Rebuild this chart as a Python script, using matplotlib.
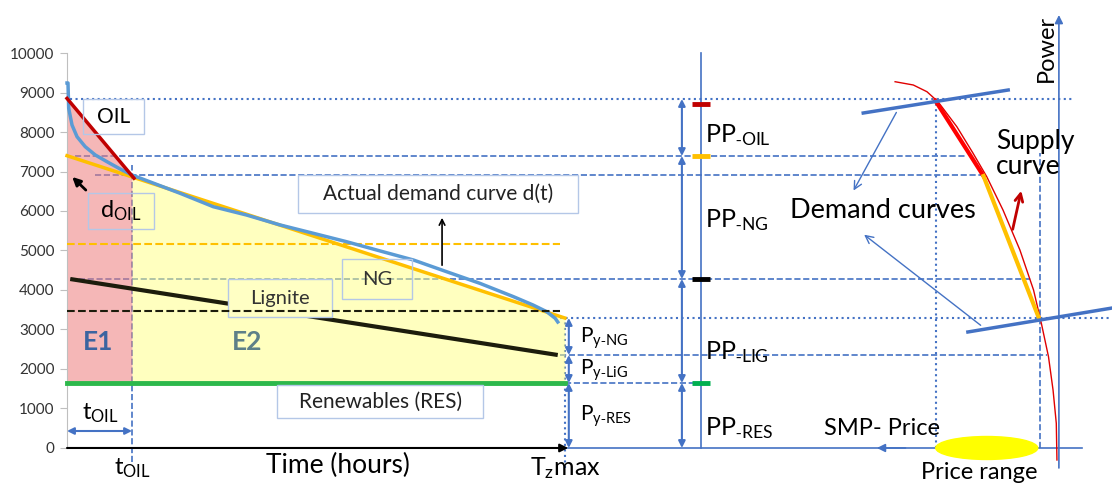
import matplotlib.pyplot as plt
from matplotlib.patches import Rectangle, Ellipse

plt.rcParams['font.family'] = ['Lato', 'DejaVu Sans']
plt.rcParams['mathtext.fontset'] = 'custom'
plt.rcParams['mathtext.rm'] = 'Lato'
plt.rcParams['mathtext.default'] = 'regular'

# time axis (hours, scaled so that t_OIL = 1)
T_OIL = 1.0
T_MAX = 7.66

# actual demand curve d(t)
DEMAND_T = [0.0, 0.015, 0.026, 0.077, 0.154, 0.28, 0.435, 0.642, 0.846, 1.0,
            1.74, 2.25, 2.76, 3.28, 3.79, 4.30, 4.82, 5.33, 5.84, 6.35, 6.87,
            7.17, 7.38, 7.51, 7.55]
DEMAND_P = [9241, 9241, 8600, 8177, 7881, 7628, 7418, 7223, 7038, 6911,
            6448, 6109, 5899, 5646, 5435, 5223, 4987, 4759, 4463, 4170, 3830,
            3620, 3451, 3284, 3190]

# unit lines
OIL_T, OIL_P = [0.0, 1.03], [8850, 6830]
NG_T, NG_P = [0.0, T_MAX], [7400, 3290]
LIG_T, LIG_P = [0.05, 7.55], [4278, 2354]
RES_P = 1650
NG_AVG = 5170
LIG_AVG = 3476

# power levels used by the reference lines
P_OIL = 8835
P_NG = 7392
D_TOIL = 6911
P_LIG = 4278
PY_NG = 3291
PY_LIG = 2354
PY_RES = 1646

# colored marks on the PP axis
PP_MARK_P = [8709, 7392, 4278, 1646]
PP_MARK_C = ['#C00000', '#FFC000', 'black', '#00B050']

# supply curve (price axis drawn right-to-left)
SUPPLY_X = [12.74, 13.02, 13.23, 13.40, 13.69, 13.94, 14.15, 14.40, 14.66, 14.87,
            14.99, 15.10, 15.17, 15.22, 15.23]
SUPPLY_P = [9273, 9190, 9020, 8767, 8134, 7461, 6868, 6025, 5013, 4000,
            3157, 2311, 1468, 625, -304]
SUPPLY_OIL_X, SUPPLY_OIL_P = [13.36, 14.10], [8793, 6886]
SUPPLY_NG_X, SUPPLY_NG_P = [14.10, 14.96], [6886, 3258]

# two demand curves in the price/power plane
DEM_HI_X, DEM_HI_P = [12.25, 14.48], [8481, 9063]
DEM_LO_X, DEM_LO_P = [13.86, 16.08], [2937, 3544]

BLUE = '#4472C4'
LBLUE = '#5B9BD5'
BOXC = '#B4C7E7'

fig = plt.figure(figsize=(11.12, 4.91), dpi=100)
ax = fig.add_axes([0, 0, 1, 1])
ax.set_xlim(-1.031, 16.077)
ax.set_ylim(-1089, 11342)
ax.patch.set_alpha(0)

for s in ['top', 'right', 'bottom']:
    ax.spines[s].set_visible(False)
ax.spines['left'].set_position(('data', 0))
ax.spines['left'].set_bounds(0, 10000)
ax.spines['left'].set_color('#BFBFBF')
ax.set_xticks([])
ax.set_yticks(range(0, 10001, 1000))
ax.tick_params(axis='y', length=5, color='#BFBFBF', labelsize=11, labelcolor='#333333', pad=4)

# reference lines
ax.plot([0.05, 15.5], [P_OIL] * 2, ':', color=BLUE, lw=1.5, zorder=1)
ax.plot([0.12, 13.85], [P_NG] * 2, '--', color=BLUE, lw=1.2, zorder=1)
ax.plot([0.43, 14.09], [D_TOIL] * 2, '--', color=BLUE, lw=1.2, zorder=1)
ax.plot([0.05, 14.85], [P_LIG] * 2, '--', color=BLUE, lw=1.2, zorder=1)
ax.plot([7.58, 16.08], [PY_NG] * 2, ':', color=BLUE, lw=1.5, zorder=1)
ax.plot([7.58, 15.08], [PY_LIG] * 2, '--', color=BLUE, lw=1.2, zorder=1)
ax.plot([7.66, 9.74], [PY_RES] * 2, '--', color=BLUE, lw=1.2, zorder=1)
ax.plot([T_OIL] * 2, [-350, 7165], '--', color=BLUE, lw=1.2, zorder=1)
ax.plot([T_MAX] * 2, [-500, PY_NG], ':', color=BLUE, lw=1.5, zorder=1)
ax.plot([13.37] * 2, [0, P_OIL], ':', color=BLUE, lw=1.5, zorder=1)
ax.plot([14.97] * 2, [0, 7480], '--', color=BLUE, lw=1.2, zorder=1)

# energy areas
ax.fill_between([0, T_OIL], [RES_P] * 2, [OIL_P[0], 6880], color='#EE7D7D', alpha=0.55, lw=0, zorder=2)
ng_end = NG_P[0] + (NG_P[1] - NG_P[0]) * T_OIL / T_MAX
ax.fill_between([T_OIL, T_MAX], [RES_P] * 2, [ng_end, NG_P[1]], color='#FFFF80', alpha=0.5, lw=0, zorder=2)

# unit lines and demand
ax.plot([0, T_MAX - 0.08], [NG_AVG] * 2, '--', color='#FFC000', lw=1.5, zorder=3)
ax.plot(LIG_T, LIG_P, color='#1C1C0C', lw=3, zorder=3, solid_capstyle='butt')
ax.plot([0, T_MAX], [RES_P] * 2, color='#2DB84B', lw=3.5, zorder=3)
ax.plot(NG_T, NG_P, color='#FFC000', lw=2.5, zorder=4)
ax.plot(DEMAND_T, DEMAND_P, color=LBLUE, lw=2.5, zorder=4)
ax.plot(OIL_T, OIL_P, color='#C00000', lw=2.5, zorder=5)


def box(x0, x1, y0, y1, fc='none', z=6):
    ax.add_patch(Rectangle((x0, y0), x1 - x0, y1 - y0, fc=fc, ec=BOXC, lw=1, zorder=z))


box(0.246, 1.185, 7949, 8835)
ax.text(0.715, 8392, 'OIL', fontsize=15, ha='center', va='center', zorder=7)
box(0.323, 1.338, 5544, 6456)
ax.text(0.83, 6000, 'd$_{OIL}$', fontsize=17, ha='center', va='center', zorder=7)
box(3.55, 7.86, 5949, 6911, fc='white')
ax.text(5.71, 6430, 'Actual demand curve d(t)', fontsize=15, ha='center', va='center', color='#222222', zorder=7)
box(4.23, 5.31, 3772, 4785)
ax.text(4.77, 4278, 'NG', fontsize=14.5, ha='center', va='center', color='#333333', zorder=7)
box(2.48, 4.08, 3316, 4278, fc='#FFFFC4', z=4)
ax.text(3.28, 3797, 'Lignite', fontsize=14.5, ha='center', va='center', color='#333333', zorder=7)
ax.plot([0, T_MAX - 0.08], [LIG_AVG] * 2, '--', color='#1C1C0C', lw=1.5, zorder=5)
box(3.23, 6.4, 759, 1595, fc='white')
ax.text(4.82, 1165, 'Renewables (RES)', fontsize=15, ha='center', va='center', color='#222222', zorder=7)

ax.text(0.48, 2684, 'E1', fontsize=19, fontweight='bold', color='#3B64A0', ha='center', va='center', zorder=7)
ax.text(2.77, 2684, 'E2', fontsize=19, fontweight='bold', color='#5E8088', ha='center', va='center', zorder=7)

# arrows on the left chart
ax.annotate('', xy=(0.05, 6911), xytext=(0.32, 6481),
            arrowprops=dict(arrowstyle='-|>', color='black', lw=2, mutation_scale=12), zorder=8)
ax.annotate('', xy=(5.77, 5899), xytext=(5.77, 4557),
            arrowprops=dict(arrowstyle='->', color='black', lw=1.2), zorder=8)
ax.annotate('', xy=(0, 430), xytext=(T_OIL, 430),
            arrowprops=dict(arrowstyle='<|-|>', color=BLUE, lw=1.5, mutation_scale=10, shrinkA=0, shrinkB=0))
ax.text(0.51, 886, 't$_{OIL}$', fontsize=17, ha='center', va='center')

# time axis
ax.annotate('', xy=(T_MAX + 0.05, 0), xytext=(0, 0),
            arrowprops=dict(arrowstyle='-|>', color='black', lw=1.5, mutation_scale=12, shrinkA=0, shrinkB=0))
ax.text(T_OIL, -520, 't$_{OIL}$', fontsize=17, ha='center', va='center')
ax.text(4.17, -430, 'Time (hours)', fontsize=19, ha='center', va='center')
ax.text(T_MAX, -520, 'T$_{z}$max', fontsize=18, ha='center', va='center')

# Py arrows
for lo, hi in [(PY_LIG, PY_NG), (PY_RES, PY_LIG), (0, PY_RES)]:
    ax.annotate('', xy=(7.72, lo), xytext=(7.72, hi),
                arrowprops=dict(arrowstyle='<|-|>', color=BLUE, lw=1.5, mutation_scale=10, shrinkA=0, shrinkB=0))
ax.text(7.89, 2785, 'P$_{y\u2011NG}$', fontsize=15, va='center')
ax.text(7.89, 1975, 'P$_{y\u2011LiG}$', fontsize=15, va='center')
ax.text(7.89, 810, 'P$_{y\u2011RES}$', fontsize=15, va='center')

# PP axis
ax.plot([9.75, 9.75], [0, 10000], color=BLUE, lw=1.2)
for lo, hi in [(P_NG, P_OIL), (P_LIG, P_NG), (PY_RES, P_LIG), (0, PY_RES)]:
    ax.annotate('', xy=(9.46, lo), xytext=(9.46, hi),
                arrowprops=dict(arrowstyle='<|-|>', color=BLUE, lw=1.5, mutation_scale=10, shrinkA=0, shrinkB=0))
for p, c in zip(PP_MARK_P, PP_MARK_C):
    ax.plot([9.62, 9.89], [p, p], color=c, lw=3.5, solid_capstyle='butt', zorder=4)
ax.text(9.82, 7924, 'PP$_{\u2011OIL}$', fontsize=18, va='center')
ax.text(9.82, 5772, 'PP$_{\u2011NG}$', fontsize=18, va='center')
ax.text(9.82, 2430, 'PP$_{\u2011LIG}$', fontsize=18, va='center')
ax.text(9.82, 506, 'PP$_{\u2011RES}$', fontsize=18, va='center')

# price axis and power axis
ax.plot([T_MAX, 15.62], [0, 0], color=BLUE, lw=1.2)
ax.annotate('', xy=(12.46, 0), xytext=(12.9, 0),
            arrowprops=dict(arrowstyle='-|>', color=BLUE, lw=1.2, mutation_scale=12, shrinkA=0, shrinkB=0))
ax.annotate('', xy=(15.26, 10962), xytext=(15.26, -506),
            arrowprops=dict(arrowstyle='-|>', color=BLUE, lw=1.2, mutation_scale=12, shrinkA=0, shrinkB=0))
ax.text(15.06, 10127, 'Power', fontsize=17, rotation=90, ha='center', va='center')
ax.add_patch(Ellipse((14.15, 0), 1.57, 582, color='#FFFF00', zorder=3))
ax.text(12.54, 506, 'SMP- Price', fontsize=17, ha='center', va='center')
ax.text(14.03, -633, 'Price range', fontsize=17, ha='center', va='center')

# supply and demand curves
ax.plot(SUPPLY_X, SUPPLY_P, color='#E00000', lw=1)
ax.plot(SUPPLY_OIL_X, SUPPLY_OIL_P, color='#FF0000', lw=3, zorder=4)
ax.plot(SUPPLY_NG_X, SUPPLY_NG_P, color='#FFC000', lw=3, zorder=4)
ax.plot(DEM_HI_X, DEM_HI_P, color=BLUE, lw=2.5, zorder=4)
ax.plot(DEM_LO_X, DEM_LO_P, color=BLUE, lw=2.5, zorder=4)
ax.text(12.55, 6000, 'Demand curves', fontsize=19.5, ha='center', va='center')
ax.annotate('', xy=(12.08, 6456), xytext=(12.78, 8557),
            arrowprops=dict(arrowstyle='->', color=BLUE, lw=1, mutation_scale=14))
ax.annotate('', xy=(12.23, 5443), xytext=(14.09, 3063),
            arrowprops=dict(arrowstyle='->', color=BLUE, lw=1, mutation_scale=14))
ax.text(14.29, 7450, 'Supply\ncurve', fontsize=19, ha='left', va='center', linespacing=1.0)
ax.annotate('', xy=(14.69, 6582), xytext=(14.54, 5468),
            arrowprops=dict(arrowstyle='->', color='#C00000', lw=2, mutation_scale=14))

fig.savefig('out.png', dpi=100)
